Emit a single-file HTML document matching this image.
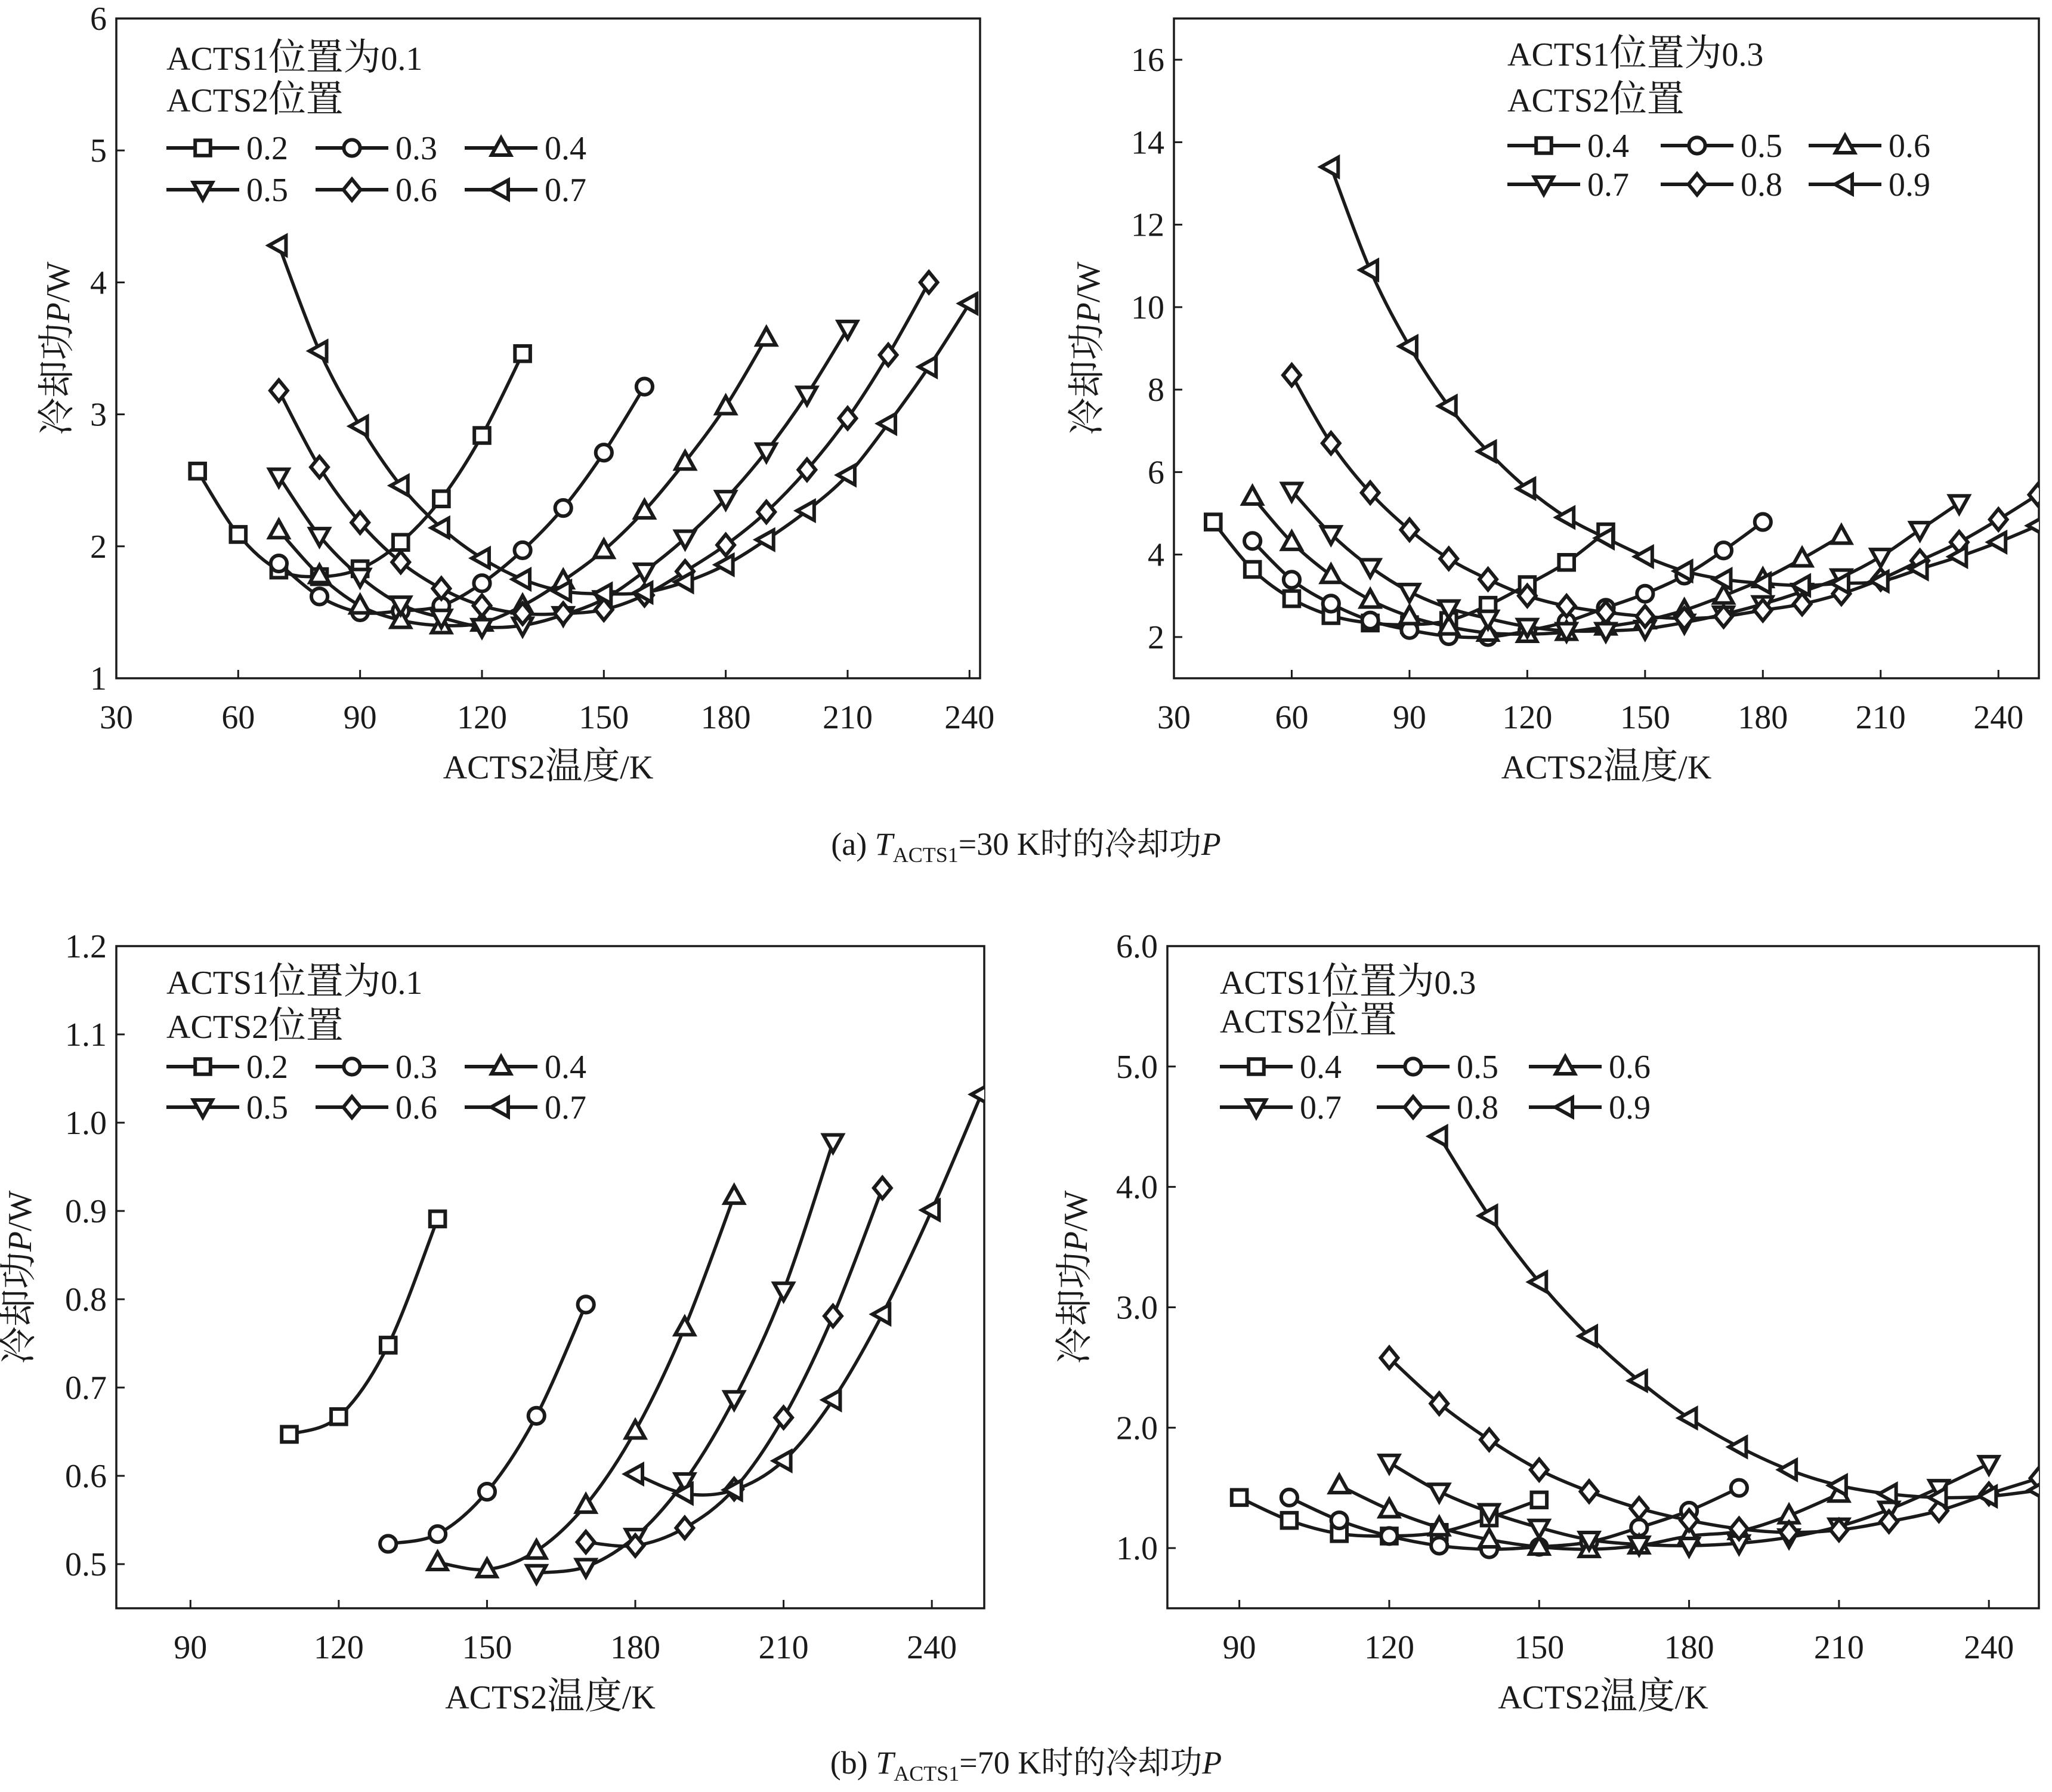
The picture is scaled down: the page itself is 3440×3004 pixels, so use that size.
<!DOCTYPE html>
<html><head><meta charset="utf-8">
<style>
html,body{margin:0;padding:0;background:#fff;}
svg{display:block;}
text{font-family:"Liberation Serif","Noto Serif CJK SC","Noto Sans CJK SC",serif;fill:#1a1a1a;}
.cj{font-size:1.12em;}
</style></head>
<body>
<svg id="fig" width="3440" height="3004" viewBox="0 0 3440 3004" xmlns="http://www.w3.org/2000/svg">
<text x="1720" y="1433" font-size="54" text-anchor="middle">(a) <tspan font-style="italic">T</tspan><tspan font-size="36" dy="12">ACTS1</tspan><tspan dy="-12">=30 K时的冷却功</tspan><tspan font-style="italic">P</tspan></text>
<text x="1720" y="2973" font-size="54" text-anchor="middle">(b) <tspan font-style="italic">T</tspan><tspan font-size="36" dy="12">ACTS1</tspan><tspan dy="-12">=70 K时的冷却功</tspan><tspan font-style="italic">P</tspan></text>
</svg>
<script>
// ---- Panel (a) left: ACTS1 = 0.1, T=30K ----
const aL_labels = ["0.2","0.3","0.4","0.5","0.6","0.7"];
const aL_x02 = [50,60,70,80,90,100,110,120,130];
const aL_y02 = [2.57,2.09,1.82,1.77,1.83,2.03,2.36,2.84,3.46];
const aL_x03 = [70,80,90,100,110,120,130,140,150,160];
const aL_y03 = [1.87,1.62,1.5,1.51,1.55,1.72,1.97,2.29,2.71,3.21];
const aL_x04 = [70,80,90,100,110,120,130,140,150,160,170,180,190];
const aL_y04 = [2.12,1.78,1.55,1.44,1.4,1.42,1.55,1.74,1.97,2.27,2.64,3.06,3.58];
const aL_x05 = [70,80,90,100,110,120,130,140,150,160,170,180,190,200,210];
const aL_y05 = [2.53,2.08,1.77,1.56,1.46,1.39,1.4,1.48,1.6,1.81,2.06,2.36,2.72,3.15,3.65];
const aL_x06 = [70,80,90,100,110,120,130,140,150,160,170,180,190,200,210,220,230];
const aL_y06 = [3.18,2.6,2.18,1.88,1.68,1.55,1.49,1.49,1.52,1.63,1.81,2.01,2.26,2.58,2.97,3.45,4.0];
const aL_x07 = [70,80,90,100,110,120,130,140,150,160,170,180,190,200,210,220,230,240];
const aL_y07 = [4.28,3.48,2.91,2.46,2.14,1.91,1.75,1.66,1.64,1.65,1.73,1.86,2.05,2.27,2.54,2.93,3.36,3.84];
const aL_xticks = [30,60,90,120,150,180,210,240];
const aL_yticks = [1,2,3,4,5,6];

// ---- Panel (a) right: ACTS1 = 0.3, T=30K ----
const aR_labels = ["0.4","0.5","0.6","0.7","0.8","0.9"];
const aR_x04 = [40,50,60,70,80,90,100,110,120,130,140];
const aR_y04 = [4.79,3.64,2.93,2.52,2.34,2.3,2.4,2.77,3.27,3.81,4.55];
const aR_x05 = [50,60,70,80,90,100,110,120,130,140,150,160,170,180];
const aR_y05 = [4.33,3.39,2.81,2.4,2.17,2.02,2.0,2.15,2.37,2.71,3.05,3.49,4.1,4.79];
const aR_x06 = [50,60,70,80,90,100,110,120,130,140,150,160,170,180,190,200];
const aR_y06 = [5.4,4.3,3.5,2.9,2.5,2.25,2.1,2.07,2.12,2.25,2.4,2.65,3.0,3.4,3.9,4.45];
const aR_x07 = [60,70,80,90,100,110,120,130,140,150,160,170,180,190,200,210,220,230];
const aR_y07 = [5.55,4.5,3.7,3.1,2.7,2.45,2.25,2.15,2.15,2.2,2.35,2.55,2.8,3.1,3.45,3.95,4.6,5.25];
const aR_x08 = [60,70,80,90,100,110,120,130,140,150,160,170,180,190,200,210,220,230,240,250];
const aR_y08 = [8.35,6.7,5.5,4.6,3.9,3.4,3.0,2.75,2.6,2.5,2.45,2.5,2.65,2.8,3.05,3.4,3.85,4.3,4.85,5.45];
const aR_x09 = [70,80,90,100,110,120,130,140,150,160,170,180,190,200,210,220,230,240,250];
const aR_y09 = [13.4,10.9,9.05,7.6,6.5,5.6,4.9,4.4,3.95,3.6,3.4,3.3,3.25,3.3,3.35,3.65,3.95,4.3,4.7];
const aR_xticks = [30,60,90,120,150,180,210,240];
const aR_yticks = [2,4,6,8,10,12,14,16];

// ---- Panel (b) left: ACTS1 = 0.1, T=70K ----
const bL_labels = ["0.2","0.3","0.4","0.5","0.6","0.7"];
const bL_x02 = [110,120,130,140];
const bL_y02 = [0.647,0.667,0.748,0.891];
const bL_x03 = [130,140,150,160,170];
const bL_y03 = [0.523,0.534,0.582,0.668,0.794];
const bL_x04 = [140,150,160,170,180,190,200];
const bL_y04 = [0.502,0.494,0.515,0.567,0.651,0.768,0.917];
const bL_x05 = [160,170,180,190,200,210,220];
const bL_y05 = [0.49,0.497,0.531,0.594,0.687,0.81,0.978];
const bL_x06 = [170,180,190,200,210,220,230];
const bL_y06 = [0.525,0.521,0.541,0.585,0.666,0.781,0.926];
const bL_x07 = [180,190,200,210,220,230,240,250];
const bL_y07 = [0.602,0.58,0.584,0.617,0.686,0.783,0.901,1.032];
const bL_xticks = [90,120,150,180,210,240];
const bL_yticks = [0.5,0.6,0.7,0.8,0.9,1.0,1.1,1.2];

// ---- Panel (b) right: ACTS1 = 0.3, T=70K ----
const bR_labels = ["0.4","0.5","0.6","0.7","0.8","0.9"];
const bR_x04 = [90,100,110,120,130,140,150];
const bR_y04 = [1.42,1.23,1.12,1.1,1.13,1.25,1.4];
const bR_x05 = [100,110,120,130,140,150,160,170,180,190];
const bR_y05 = [1.42,1.23,1.1,1.02,0.99,1.01,1.05,1.17,1.31,1.5];
const bR_x06 = [110,120,130,140,150,160,170,180,190,200,210];
const bR_y06 = [1.52,1.32,1.17,1.07,1.01,0.99,1.02,1.1,1.14,1.27,1.45];
const bR_x07 = [120,130,140,150,160,170,180,190,200,210,220,230,240];
const bR_y07 = [1.71,1.47,1.3,1.17,1.07,1.03,1.02,1.04,1.09,1.18,1.32,1.5,1.7];
const bR_x08 = [120,130,140,150,160,170,180,190,200,210,220,230,240,250];
const bR_y08 = [2.58,2.2,1.9,1.65,1.47,1.33,1.23,1.16,1.13,1.15,1.22,1.31,1.45,1.58];
const bR_x09 = [130,140,150,160,170,180,190,200,210,220,230,240,250];
const bR_y09 = [4.42,3.76,3.21,2.76,2.39,2.08,1.84,1.65,1.52,1.45,1.42,1.43,1.48];
const bR_xticks = [90,120,150,180,210,240];
const bR_yticks = [1.0,2.0,3.0,4.0,5.0,6.0];

const NS = "http://www.w3.org/2000/svg";
const svg = document.getElementById('fig');
const MARKERS = ["square","circle","up","down","diamond","left"];
const FS = 56;
function mk(tag, attrs, parent){const e=document.createElementNS(NS,tag);for(const k in attrs)e.setAttribute(k,attrs[k]);(parent||svg).appendChild(e);return e;}

function markerPath(type,x,y,s){
  switch(type){
    case "square": return `M${x-s*0.8},${y-s*0.8}h${s*1.6}v${s*1.6}h${-s*1.6}Z`;
    case "up": return `M${x},${y-s*1.05}L${x+s},${y+s*0.75}L${x-s},${y+s*0.75}Z`;
    case "down": return `M${x},${y+s*1.05}L${x+s},${y-s*0.75}L${x-s},${y-s*0.75}Z`;
    case "diamond": return `M${x},${y-s*1.1}L${x+s*0.9},${y}L${x},${y+s*1.1}L${x-s*0.9},${y}Z`;
    case "left": return `M${x-s*1.05},${y}L${x+s*0.75},${y-s}L${x+s*0.75},${y+s}Z`;
  }
}
function drawMarker(g,type,x,y,s){
  let e;
  if(type==="circle"){ e=mk('circle',{cx:x,cy:y,r:s*0.85,fill:'#fff',stroke:'#1a1a1a','stroke-width':6},g); }
  else { e=mk('path',{d:markerPath(type,x,y,s),fill:'#fff',stroke:'#1a1a1a','stroke-width':6,'stroke-linejoin':'miter'},g); }
  return e;
}
function smoothPath(pts){
  if(pts.length<2) return "";
  let d=`M${pts[0][0]},${pts[0][1]}`;
  for(let i=0;i<pts.length-1;i++){
    const p0=pts[i-1]||pts[i], p1=pts[i], p2=pts[i+1], p3=pts[i+2]||p2;
    const t=1/6;
    const c1=[p1[0]+(p2[0]-p0[0])*t, p1[1]+(p2[1]-p0[1])*t];
    const c2=[p2[0]-(p3[0]-p1[0])*t, p2[1]-(p3[1]-p1[1])*t];
    d+=`C${c1[0]},${c1[1]} ${c2[0]},${c2[1]} ${p2[0]},${p2[1]}`;
  }
  return d;
}

function panel(cfg){
  const {id,L,R,T,B,xmin,xmax,ymin,ymax,xticks,yticks,ydec,xs,ys,labels,legX,legCols,legRows,title1,titleY} = cfg;
  const sx = v => L + (v-xmin)/(xmax-xmin)*(R-L);
  const sy = v => B - (v-ymin)/(ymax-ymin)*(B-T);
  const g = mk('g',{});
  
  
  const clip = mk('clipPath',{id:id+'-clip'},g);
  mk('rect',{x:L,y:T,width:R-L,height:B-T},clip);
  const box = mk('rect',{x:L,y:T,width:R-L,height:B-T,fill:'none',stroke:'#1a1a1a','stroke-width':3.5},g);
  
  
  xticks.forEach(v=>{
    const X=sx(v);
    const tk=mk('line',{x1:X,y1:B,x2:X,y2:B-14,stroke:'#1a1a1a','stroke-width':3},g);
    
    
    const t=mk('text',{x:X,y:B+84,'font-size':FS,'text-anchor':'middle'},g);
    t.textContent=String(v);
    
    
  });
  yticks.forEach(v=>{
    const Y=sy(v);
    const tk=mk('line',{x1:L,y1:Y,x2:L+14,y2:Y,stroke:'#1a1a1a','stroke-width':3},g);
    
    
    const t=mk('text',{x:L-16,y:Y+19,'font-size':FS,'text-anchor':'end'},g);
    t.textContent=v.toFixed(ydec);
    
    
  });
  const xt=mk('text',{x:(L+R)/2,y:B+168,'font-size':FS,'text-anchor':'middle'},g);
  xt.innerHTML='ACTS2<tspan class="cj">温度</tspan>/K';
  
  
  const yx=cfg.yTitleX, yy=(T+B)/2;
  const yt=mk('text',{x:yx,y:yy,'font-size':FS,'text-anchor':'middle',transform:`rotate(-90 ${yx} ${yy})`},g);
  yt.innerHTML='<tspan class="cj">冷却功</tspan><tspan font-style="italic">P</tspan>/W';
  
  
  const sg=mk('g',{'clip-path':`url(#${id}-clip)`},g);
  xs.forEach((xa,i)=>{
    const pts=xa.map((x,j)=>[sx(x),sy(ys[i][j])]);
    const p=mk('path',{d:smoothPath(pts),fill:'none',stroke:'#1a1a1a','stroke-width':5.5},sg);
    
    
  });
  xs.forEach((xa,i)=>{
    xa.forEach((x,j)=>{
      const m=drawMarker(sg,MARKERS[i],sx(x),sy(ys[i][j]),16);
      
      
    });
  });
  const t1=mk('text',{x:legX,y:titleY[0],'font-size':FS},g);
  t1.innerHTML='ACTS1<tspan class="cj">位置为</tspan>'+title1;
  
  
  const t2=mk('text',{x:legX,y:titleY[1],'font-size':FS},g);
  t2.innerHTML='ACTS2<tspan class="cj">位置</tspan>';
  
  
  labels.forEach((lab,i)=>{
    const cx=legCols[i%3], cy=legRows[Math.floor(i/3)];
    const lg=mk('g',{},g);
    
    
    mk('line',{x1:cx,y1:cy,x2:cx+122,y2:cy,stroke:'#1a1a1a','stroke-width':6},lg);
    drawMarker(lg,MARKERS[i],cx+61,cy,16);
    const tt=mk('text',{x:cx+134,y:cy+19,'font-size':FS},lg);
    tt.textContent=lab;
  });
}

panel({id:'a-left',L:195,R:1643,T:31,B:1137,xmin:30,xmax:242.6,ymin:1,ymax:6,xticks:aL_xticks,yticks:aL_yticks,ydec:0,
  xs:[aL_x02,aL_x03,aL_x04,aL_x05,aL_x06,aL_x07],ys:[aL_y02,aL_y03,aL_y04,aL_y05,aL_y06,aL_y07],labels:aL_labels,
  legX:279,legCols:[279,529,779],legRows:[248,318],title1:'0.1',titleY:[117,187],yTitleX:116});
panel({id:'a-right',L:1968,R:3418,T:31,B:1137,xmin:30,xmax:250.3,ymin:1,ymax:17,xticks:aR_xticks,yticks:aR_yticks,ydec:0,
  xs:[aR_x04,aR_x05,aR_x06,aR_x07,aR_x08,aR_x09],ys:[aR_y04,aR_y05,aR_y06,aR_y07,aR_y08,aR_y09],labels:aR_labels,
  legX:2527,legCols:[2527,2784,3032],legRows:[244,309],title1:'0.3',titleY:[110,187],yTitleX:1843});
panel({id:'b-left',L:195,R:1650,T:1586,B:2696,xmin:75,xmax:250.6,ymin:0.45,ymax:1.2,xticks:bL_xticks,yticks:bL_yticks,ydec:1,
  xs:[bL_x02,bL_x03,bL_x04,bL_x05,bL_x06,bL_x07],ys:[bL_y02,bL_y03,bL_y04,bL_y05,bL_y06,bL_y07],labels:bL_labels,
  legX:279,legCols:[279,529,779],legRows:[1788,1856],title1:'0.1',titleY:[1666,1740],yTitleX:52});
panel({id:'b-right',L:1957,R:3418,T:1586,B:2696,xmin:75.6,xmax:250,ymin:0.5,ymax:6.0,xticks:bR_xticks,yticks:bR_yticks,ydec:1,
  xs:[bR_x04,bR_x05,bR_x06,bR_x07,bR_x08,bR_x09],ys:[bR_y04,bR_y05,bR_y06,bR_y07,bR_y08,bR_y09],labels:bR_labels,
  legX:2045,legCols:[2045,2308,2563],legRows:[1788,1856],title1:'0.3',titleY:[1666,1731],yTitleX:1822});
</script>
</body></html>
